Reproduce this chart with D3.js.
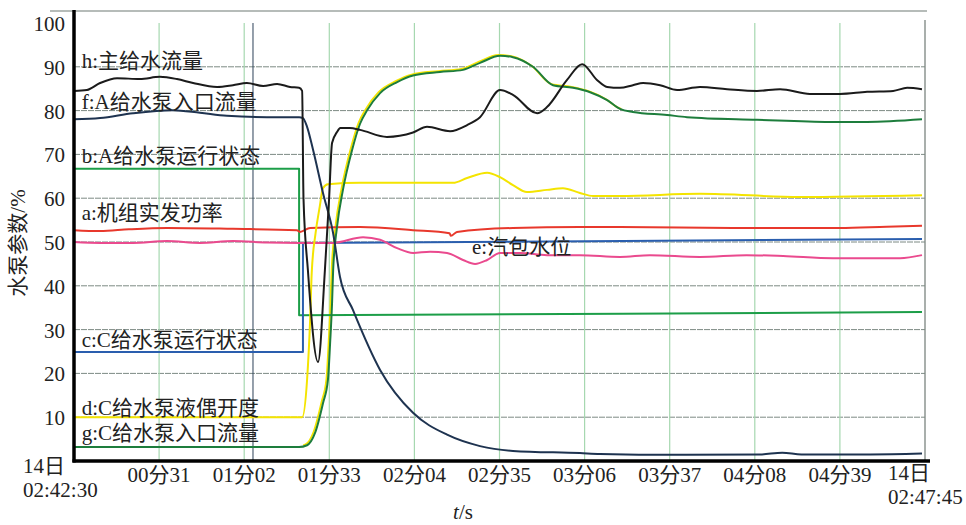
<!DOCTYPE html>
<meta charset="utf-8">
<html>
  <head>
    <title>给水泵切换参数</title>
    <style>
      body { margin: 0; background: #fff; }
      text.lbl {
        font-family: "Liberation Serif", "Noto Sans CJK SC", serif;
        font-size: 21px;
        fill: #222;
      }
      .grid-h line { stroke: #7d8a84; stroke-width: 1px; stroke-dasharray: 6 1; }
      .grid-v line { stroke: #a6d8b0; stroke-width: 1.2px; }
      path.series { fill: none; stroke-width: 2px; stroke-linejoin: round; }
    </style>
    <script src="https://cdn.jsdelivr.net/npm/d3@7"></script>
  </head>
  <body>
    <div id="chart"></div>
    <script type="text/javascript">
    // time in seconds after 14日 02:42:30, values in %
    var xTickValues = [31, 62, 93, 124, 155, 186, 217, 248, 279];
    var xTickLabels = ["00分31", "01分02", "01分33", "02分04", "02分35", "03分06", "03分37", "04分08", "04分39"];
    var yTickValues = [10, 20, 30, 40, 50, 60, 70, 80, 90, 100];

    // h: 主给水流量
    var hData = [[0,84.5],[4.7,84.7],[9.5,86.3],[15.7,87.4],[24,87.2],[31.3,87.7],[37.5,87.2],[43.4,86.3],[52.1,85.4],[57.9,85.8],[63,86.3],[68.9,85.6],[74,86.1],[78.7,85.4],[82,85.2],[83.1,84.5],[83.6,60],[85.2,43.6],[88.9,22.6],[91.4,43.6],[92.9,59.6],[94,72.6],[95.8,75.1],[97,76],[100.5,76],[104.2,75.6],[114,74],[123.5,75],[128.6,76.3],[137,75.3],[143.2,76.7],[147.9,78.5],[155.2,84.7],[159.9,83.6],[168.7,79.4],[172.3,80.8],[179.6,87],[185.1,90.6],[190.5,87],[194.2,85.4],[198.9,85.2],[203.6,85.8],[207.3,86.3],[213.5,85.8],[219.7,84.7],[228,85.4],[237.9,84.9],[248.8,84.5],[257.2,84.9],[268.1,83.8],[279,83.8],[288.9,84.3],[298.4,84.5],[303.5,85.2],[308.9,84.9]];
    // f: A给水泵入口流量
    var fData = [[0,78],[9.5,78.3],[21.5,79.4],[36,80.1],[45.9,79.5],[55.7,78.8],[70.3,78.5],[82,78.5],[83.4,78.3],[84.9,76.3],[87.1,71],[90.7,61.2],[94.4,52],[96.9,42],[101.6,34.5],[111.5,20.8],[123.5,11],[135.9,6],[147.9,3.4],[159.9,2.3],[184.3,1.8],[191.6,1.6],[220,1.4],[250,1.5],[258,1.9],[265,1.5],[290,1.5],[308.9,1.7]];
    // b: A给水泵运行状态
    var bData = [[0,66.7],[82,66.7],[82,33.3],[200,33.6],[308.9,34]];
    // a: 机组实发功率
    var aData = [[0,52.7],[9.5,52.5],[20,52.9],[33.9,53.2],[57.9,53],[81.2,52.7],[82.3,52.3],[86,53.2],[104.2,53.4],[123.5,52.7],[136.8,52],[137.3,51.4],[139.5,52.3],[159.9,53.2],[184.3,53.4],[198.9,53.4],[240,53.2],[279,53.2],[296,53.5],[308.9,53.7]];
    // e: 汽包水位
    var eData = [[0,50],[9.5,49.8],[21.5,49.8],[33.9,50.2],[45.9,49.8],[57.9,50.2],[70.3,49.9],[82,49.8],[94.4,49.8],[105.3,51.1],[111.5,50.5],[117.7,48.6],[123.5,47.5],[129.7,47.8],[135.9,47.5],[141.7,45.9],[146.1,45],[150.5,45.9],[155.2,47.5],[162.5,47.5],[172.3,47],[184.3,47],[198.9,46.6],[209.8,47],[228,46.6],[245,47],[258.3,46.8],[276.5,46.3],[300.9,46.3],[308.9,47]];
    // c: C给水泵运行状态
    var cData = [[0,24.9],[83.4,24.9],[83.4,49.8],[200,50.2],[308.9,50.7]];
    // d: C给水泵液偶开度
    var dData = [[0,10],[83.1,10],[84.9,18.5],[86,32],[86.6,43],[88,52],[89.5,58],[90.7,62.3],[92.5,63.2],[104.2,63.5],[138.1,63.5],[143.2,64.6],[150.5,65.8],[155.2,64.8],[159.9,63],[165,61.4],[172.3,61.9],[178.1,62.3],[184.3,61.2],[189.1,60.5],[198.9,60.5],[228,61],[264.5,60.3],[308.9,60.7]];
    // g: C给水泵入口流量
    var gData = [[0,3.2],[82,3.2],[84.9,3.6],[87.8,6.4],[90.7,13.2],[92.5,18.5],[93.3,27],[94,36],[94.4,43.6],[95.8,53.4],[98,62],[101.3,71],[104.2,77],[106.7,80],[111.5,84],[117.7,86.5],[123.5,88],[133.3,88.8],[141.7,89.3],[147.9,90.9],[155.2,92.5],[159.9,92.2],[167.2,90],[174.5,85.8],[181.8,85.2],[188,84.2],[194.2,82.4],[198.9,80.4],[203.6,79.7],[216,79],[223.3,78.5],[248.8,77.9],[275.4,77.4],[288.9,77.4],[308.9,78]];

    var series = [
      { key: "b", data: bData, color: "#1c9e48", label: "b:A给水泵运行状态", lx: 2.8, ly: 68 },
      { key: "c", data: cData, color: "#2a5eae", label: "c:C给水泵运行状态", lx: 2.8, ly: 26 },
      { key: "a", data: aData, color: "#e8382c", label: "a:机组实发功率", lx: 2.8, ly: 55 },
      { key: "e", data: eData, color: "#ea4a8e", label: "e:汽包水位", lx: 145, ly: 47.3 },
      { key: "d", data: dData, color: "#f4e400", label: "d:C给水泵液偶开度", lx: 2.8, ly: 10.6 },
      { key: "g", data: gData, color: "#1d7d3c", label: "g:C给水泵入口流量", lx: 2.8, ly: 4.8 },
      { key: "f", data: fData, color: "#1e3350", label: "f:A给水泵入口流量", lx: 2.8, ly: 80.4 },
      { key: "h", data: hData, color: "#1b1b1b", label: "h:主给水流量", lx: 2.8, ly: 89.7 }
    ];

    var width = 966, height = 525;

    var x = d3.scaleLinear().domain([0, 310]).range([74, 925]);
    var y = d3.scaleLinear().domain([0, 100]).range([461, 23]);

    var svg = d3.select("#chart").append("svg")
      .attr("width", width)
      .attr("height", height);

    // top frame line and right border
    svg.append("line")
      .attr("x1", 50).attr("x2", 927).attr("y1", 11).attr("y2", 11)
      .style("stroke", "#6f7a74").style("stroke-width", 1.2);
    svg.append("line")
      .attr("x1", x(310)).attr("x2", x(310)).attr("y1", 20).attr("y2", y(0))
      .style("stroke", "#8c9590").style("stroke-width", 1.5);

    // grid
    svg.append("g").attr("class", "grid-h")
      .selectAll("line")
      .data(yTickValues.filter(function(d) { return d < 100; }))
      .enter().append("line")
      .attr("x1", x(0)).attr("x2", x(310))
      .attr("y1", function(d) { return y(d); })
      .attr("y2", function(d) { return y(d); });

    svg.append("g").attr("class", "grid-v")
      .selectAll("line")
      .data(xTickValues)
      .enter().append("line")
      .attr("x1", function(d) { return x(d); })
      .attr("x2", function(d) { return x(d); })
      .attr("y1", y(100))
      .attr("y2", y(0));

    // cursor line next to 01分02
    svg.append("line")
      .attr("x1", x(65.2)).attr("x2", x(65.2)).attr("y1", y(100)).attr("y2", y(0))
      .style("stroke", "#2c4058").style("stroke-width", 1);

    var line = d3.line()
      .x(function(d) { return x(d[0]); })
      .y(function(d) { return y(d[1]); })
      .curve(d3.curveMonotoneX);

    var lineSharp = d3.line()
      .x(function(d) { return x(d[0]); })
      .y(function(d) { return y(d[1]); });

    // yellow misregistration along the rising g trace
    svg.append("clipPath").attr("id", "gclip")
      .append("rect")
      .attr("x", x(84)).attr("y", 0)
      .attr("width", x(200) - x(84)).attr("height", height);
    svg.append("path")
      .datum(gData)
      .attr("class", "series")
      .attr("clip-path", "url(#gclip)")
      .attr("transform", "translate(-1.5,-1)")
      .style("stroke", "#f4e400")
      .style("stroke-width", 1.8)
      .attr("d", line);

    series.forEach(function(s) {
      var step = (s.key === "b" || s.key === "c");
      svg.append("path")
        .datum(s.data)
        .attr("class", "series")
        .style("stroke", s.color)
        .attr("d", step ? lineSharp(s.data) : line(s.data));
    });

    // series labels
    svg.selectAll(".slabel")
      .data(series)
      .enter().append("text")
      .attr("class", "lbl slabel")
      .attr("x", function(d) { return x(d.lx); })
      .attr("y", function(d) { return y(d.ly); })
      .text(function(d) { return d.label; });

    // axes (thick black)
    svg.append("line")
      .attr("x1", x(0)).attr("x2", x(0)).attr("y1", 10).attr("y2", y(0) + 1.5)
      .style("stroke", "#000").style("stroke-width", 3.5);
    svg.append("line")
      .attr("x1", x(0) - 1.5).attr("x2", 930).attr("y1", y(0)).attr("y2", y(0))
      .style("stroke", "#000").style("stroke-width", 3.5);

    // y tick labels
    svg.selectAll(".ytick")
      .data(yTickValues)
      .enter().append("text")
      .attr("class", "lbl ytick")
      .attr("text-anchor", "end")
      .attr("x", 65)
      .attr("y", function(d) { return y(d) + 8; })
      .text(function(d) { return d; });

    // x tick labels
    svg.selectAll(".xtick")
      .data(xTickValues)
      .enter().append("text")
      .attr("class", "lbl xtick")
      .attr("text-anchor", "middle")
      .attr("x", function(d) { return x(d); })
      .attr("y", 482)
      .text(function(d, i) { return xTickLabels[i]; });

    // start / end timestamps
    svg.append("text").attr("class", "lbl").attr("x", 23).attr("y", 473).text("14日");
    svg.append("text").attr("class", "lbl").attr("x", 23).attr("y", 497).text("02:42:30");
    svg.append("text").attr("class", "lbl").attr("x", 888).attr("y", 480).text("14日");
    svg.append("text").attr("class", "lbl").attr("x", 888).attr("y", 504).text("02:47:45");

    // axis titles
    svg.append("text")
      .attr("class", "lbl")
      .attr("transform", "translate(25,243) rotate(-90)")
      .attr("text-anchor", "middle")
      .text("水泵参数/%");

    var xt = svg.append("text")
      .attr("class", "lbl")
      .attr("x", 463).attr("y", 519)
      .attr("text-anchor", "middle");
    xt.append("tspan").style("font-style", "italic").text("t");
    xt.append("tspan").text("/s");
    </script>
  </body>
</html>
